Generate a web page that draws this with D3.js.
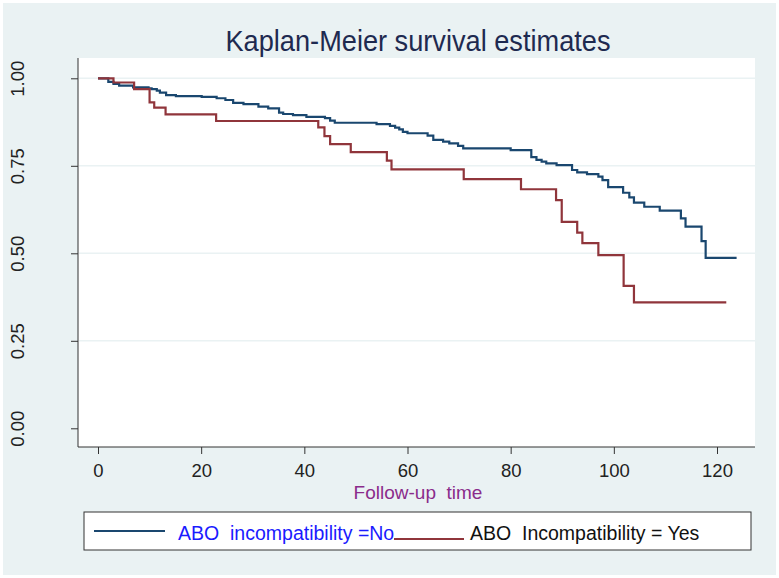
<!DOCTYPE html>
<html>
<head>
<meta charset="utf-8">
<script src="https://cdn.jsdelivr.net/npm/d3@7"></script>
<style>
  body { margin: 0; background: #ffffff; }
  svg text { font-family: "Liberation Sans", Arial, sans-serif; }
</style>
</head>
<body>
<div id="chart"></div>
<script>
// ---- data ----
const chartTitle = "Kaplan-Meier survival estimates";
const xTitle = "Follow-up  time";
const xTicks = [0, 20, 40, 60, 80, 100, 120];
const yTicks = [0, 0.25, 0.5, 0.75, 1];
const yGrid = [0.25, 0.5, 0.75, 1];

// ABO incompatibility = No
const noTimes = [0, 2, 3, 4.1, 6.8, 9.8, 10.4, 11.4, 12, 13.2, 15.1, 20.1, 23, 24.7, 26.2, 28.2,
  31.1, 33, 35.1, 35.9, 37.8, 40.4, 44, 45, 45.9, 54, 56.6, 57.6, 58.4, 59.1, 60, 63.9, 65,
  66.9, 68.1, 69.8, 70.8, 80, 84, 85, 86, 86.9, 88.9, 91.9, 92.9, 94.8, 97, 97.8, 98.9,
  101.8, 103, 103.9, 105.9, 108.9, 113, 113.9, 117, 117.8];
const noSurv = [1, 0.990, 0.984, 0.979, 0.974, 0.971, 0.969, 0.965, 0.959, 0.952, 0.949, 0.947,
  0.943, 0.938, 0.930, 0.926, 0.919, 0.914, 0.902, 0.898, 0.895, 0.890, 0.886, 0.879, 0.873,
  0.869, 0.864, 0.859, 0.854, 0.847, 0.843, 0.836, 0.824, 0.819, 0.814, 0.807, 0.800, 0.795,
  0.775, 0.767, 0.762, 0.757, 0.752, 0.738, 0.731, 0.726, 0.719, 0.709, 0.689, 0.673, 0.660,
  0.645, 0.633, 0.622, 0.600, 0.576, 0.535, 0.487];
const noEnd = 123.8;

// ABO Incompatibility = Yes
const yesTimes = [0, 3, 7, 10, 10.9, 13.1, 22.9, 42.7, 43.9, 45, 49, 56, 56.9, 70.9, 82, 88.8,
  89.9, 92.9, 93.9, 97, 101.9, 103.9];
const yesSurv = [1, 0.988, 0.969, 0.931, 0.916, 0.897, 0.878, 0.860, 0.835, 0.812, 0.789, 0.765,
  0.740, 0.712, 0.683, 0.652, 0.590, 0.559, 0.529, 0.495, 0.407, 0.360];
const yesEnd = 121.8;

const legendLabels = ["ABO  incompatibility =No", "ABO  Incompatibility = Yes"];

// ---- drawing ----
const W = 779, H = 578;
const colors = { no: "#1a476f", yes: "#90353b" };

const svg = d3.select("#chart").append("svg")
  .attr("width", W)
  .attr("height", H);

// outer graph region
svg.append("rect")
  .attr("x", 3).attr("y", 3)
  .attr("width", W - 6).attr("height", H - 6)
  .attr("fill", "#eaf2f3");

// plot region
const plot = { left: 78, right: 755, top: 58, bottom: 447 };
svg.append("rect")
  .attr("x", plot.left).attr("y", plot.top)
  .attr("width", plot.right - plot.left)
  .attr("height", plot.bottom - plot.top)
  .attr("fill", "#ffffff");

const x = d3.scaleLinear().domain([0, 120]).range([98, 717]);
const y = d3.scaleLinear().domain([0, 1]).range([428.3, 78.3]);

// grid
svg.append("g").selectAll("line")
  .data(yGrid)
  .join("line")
  .attr("x1", plot.left + 1).attr("x2", plot.right)
  .attr("y1", d => y(d)).attr("y2", d => y(d))
  .attr("stroke", "#eaf2f3")
  .attr("stroke-width", 1.5);

// axes
const yAxis = svg.append("g")
  .attr("transform", `translate(${plot.left},0)`)
  .call(d3.axisLeft(y).tickValues(yTicks).tickSize(7).tickFormat(d3.format(".2f")));
yAxis.select(".domain").attr("d", `M0,${plot.top}V${plot.bottom}`).attr("stroke", "#333");
yAxis.selectAll(".tick line").attr("stroke", "#333");
yAxis.selectAll(".tick text")
  .attr("x", null).attr("dy", null)
  .attr("transform", "translate(-54,0) rotate(-90)")
  .attr("text-anchor", "middle")
  .attr("font-size", 18.5)
  .attr("fill", "#222");

const xAxis = svg.append("g")
  .attr("transform", `translate(0,${plot.bottom})`)
  .call(d3.axisBottom(x).tickValues(xTicks).tickSize(7).tickFormat(d3.format("d")));
xAxis.select(".domain").attr("d", `M${plot.left},0H${plot.right}`).attr("stroke", "#333");
xAxis.selectAll(".tick line").attr("stroke", "#333");
xAxis.selectAll(".tick text")
  .attr("y", 30).attr("dy", null)
  .attr("font-size", 18.5)
  .attr("fill", "#222");

// survival step curves
const line = d3.line()
  .x(d => x(d[0]))
  .y(d => y(d[1]))
  .curve(d3.curveStepAfter);

function steps(times, surv, end) {
  const pts = times.map((t, i) => [t, surv[i]]);
  pts.push([end, surv[surv.length - 1]]);
  return pts;
}

svg.append("path")
  .datum(steps(noTimes, noSurv, noEnd))
  .attr("d", line)
  .attr("fill", "none")
  .attr("stroke", colors.no)
  .attr("stroke-width", 2.2);

svg.append("path")
  .datum(steps(yesTimes, yesSurv, yesEnd))
  .attr("d", line)
  .attr("fill", "none")
  .attr("stroke", colors.yes)
  .attr("stroke-width", 2.2);

// titles
svg.append("text")
  .attr("x", 418).attr("y", 51)
  .attr("text-anchor", "middle")
  .attr("font-size", 30)
  .attr("textLength", 385)
  .attr("lengthAdjust", "spacingAndGlyphs")
  .attr("fill", "#1e2a50")
  .text(chartTitle);

svg.append("text")
  .attr("x", 418).attr("y", 499)
  .attr("text-anchor", "middle")
  .attr("font-size", 19)
  .attr("fill", "#8b2c8b")
  .style("white-space", "pre")
  .text(xTitle);

// legend
svg.append("rect")
  .attr("x", 84).attr("y", 512)
  .attr("width", 667).attr("height", 38)
  .attr("fill", "#ffffff")
  .attr("stroke", "#333")
  .attr("stroke-width", 1);

svg.append("line")
  .attr("x1", 94).attr("x2", 165)
  .attr("y1", 531).attr("y2", 531)
  .attr("stroke", colors.no).attr("stroke-width", 2);
svg.append("text")
  .attr("x", 178).attr("y", 540)
  .attr("font-size", 19.5)
  .attr("fill", "#1a1aff")
  .style("white-space", "pre")
  .text(legendLabels[0]);

svg.append("line")
  .attr("x1", 394).attr("x2", 464)
  .attr("y1", 539).attr("y2", 539)
  .attr("stroke", colors.yes).attr("stroke-width", 2);
svg.append("text")
  .attr("x", 470).attr("y", 540)
  .attr("font-size", 19.5)
  .attr("fill", "#111")
  .style("white-space", "pre")
  .text(legendLabels[1]);
</script>
</body>
</html>
